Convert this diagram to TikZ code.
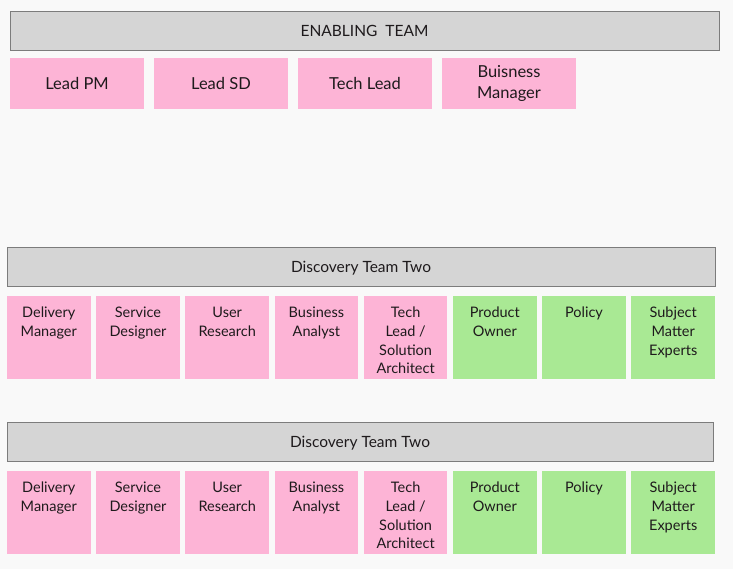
\documentclass[tikz,border=0pt]{standalone}
\usepackage{fontspec}
\setmainfont{Lato}
\usepackage{xcolor}
\usetikzlibrary{positioning}
\definecolor{cpink}{HTML}{FDB4D6}
\definecolor{cgreen}{HTML}{A9E994}
\definecolor{cbar}{HTML}{D5D5D5}
\definecolor{cline}{HTML}{7C7C7C}
\definecolor{cback}{HTML}{F9F9F9}
\definecolor{ctext}{HTML}{1E1A1C}
\tikzset{
  bar/.style={rectangle, draw=cline, line width=0.8pt, fill=cbar, anchor=north west,
    minimum height=39pt, inner sep=0pt, outer sep=0pt, text depth=0pt,
    font=\fontsize{15.5}{18}\selectfont, text=ctext},
  lead/.style={rectangle, fill=cpink, minimum width=134pt, minimum height=51pt,
    inner sep=0pt, outer sep=0pt, align=center, font=\fontsize{16.5}{21}\selectfont, text=ctext},
  role/.style={rectangle, minimum width=83.6pt, minimum height=83pt, inner sep=0pt, outer sep=0pt},
  rolep/.style={role, fill=cpink},
  roleg/.style={role, fill=cgreen},
  rtxt/.style={anchor=north, yshift=-11pt, inner sep=0pt, align=center,
    font=\fontsize{14.5}{18.7}\selectfont, text=ctext},
}
\begin{document}
\begin{tikzpicture}[x=1pt, y=-1pt, node distance=5.6pt]
  \fill[cback] (0,0) rectangle (733,569);
  \useasboundingbox (0,0) rectangle (733,569);
  \node[bar, minimum width=709pt] (enab) at (10,11) {ENABLING~ TEAM};
  \node[lead, below right=8pt and 0pt of enab.south west] (lpm) {Lead PM};
  \node[lead, right=10pt of lpm] (lsd) {Lead SD};
  \node[lead, right=10pt of lsd] (tl) {Tech Lead};
  \node[lead, right=10pt of tl] (bm) {Buisness\\Manager};

  \node[bar, minimum width=708pt] (dta) at (7,247) {Discovery Team Two};
  \node[rolep, below right=10pt and 0pt of dta.south west,
    label={[rtxt]north:{Delivery\\Manager}}] (dma) {};
  \node[rolep, right=of dma, label={[rtxt]north:{Service\\Designer}}] (sda) {};
  \node[rolep, right=of sda, label={[rtxt]north:{User\\Research}}] (ura) {};
  \node[rolep, right=of ura, label={[rtxt]north:{Business\\Analyst}}] (baa) {};
  \node[rolep, right=of baa, label={[rtxt]north:{Tech\\Lead /\\Solution\\Architect}}] (saa) {};
  \node[roleg, right=of saa, label={[rtxt]north:{Product\\Owner}}] (poa) {};
  \node[roleg, right=of poa, label={[rtxt]north:{Policy}}] (pla) {};
  \node[roleg, right=of pla, label={[rtxt]north:{Subject\\Matter\\Experts}}] (sma) {};

  \node[bar, minimum width=706pt] (dtb) at (7,422) {Discovery Team Two};
  \node[rolep, below right=10pt and 0pt of dtb.south west,
    label={[rtxt]north:{Delivery\\Manager}}] (dmb) {};
  \node[rolep, right=of dmb, label={[rtxt]north:{Service\\Designer}}] (sdb) {};
  \node[rolep, right=of sdb, label={[rtxt]north:{User\\Research}}] (urb) {};
  \node[rolep, right=of urb, label={[rtxt]north:{Business\\Analyst}}] (bab) {};
  \node[rolep, right=of bab, label={[rtxt]north:{Tech\\Lead /\\Solution\\Architect}}] (sab) {};
  \node[roleg, right=of sab, label={[rtxt]north:{Product\\Owner}}] (pob) {};
  \node[roleg, right=of pob, label={[rtxt]north:{Policy}}] (plb) {};
  \node[roleg, right=of plb, label={[rtxt]north:{Subject\\Matter\\Experts}}] (smb) {};
\end{tikzpicture}
\end{document}
